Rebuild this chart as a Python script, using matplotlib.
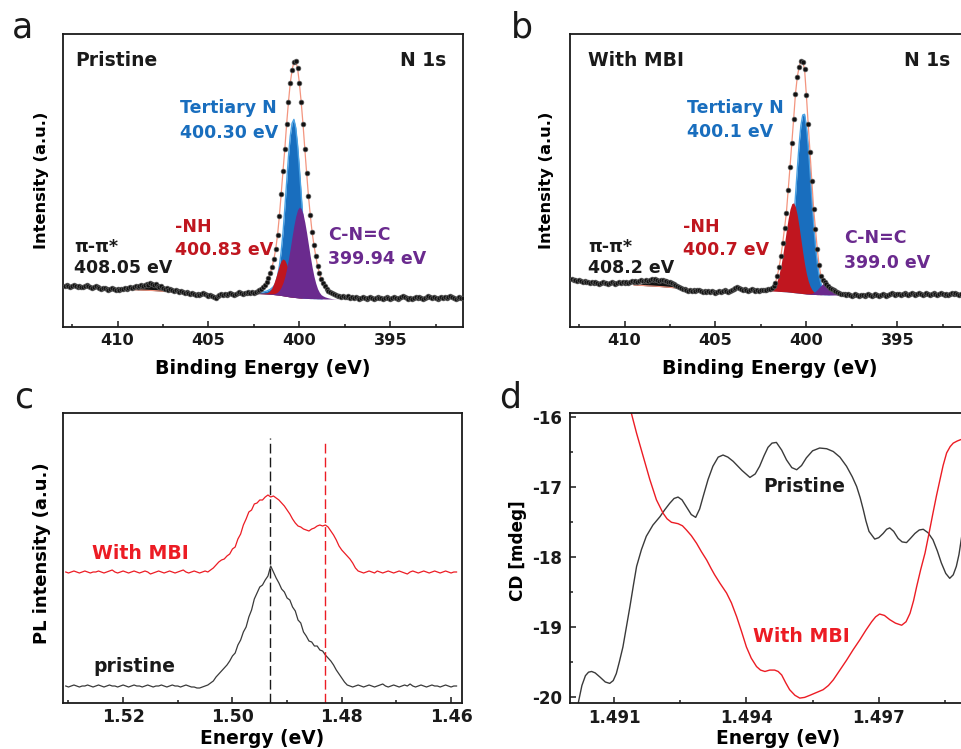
"""
N 1s XPS, PL and CD comparison: pristine film vs. film with MBI
===============================================================
Writes out.png (961 x 749 px).
"""

import numpy as np
import matplotlib

matplotlib.use("Agg")
import matplotlib.pyplot as plt
from matplotlib.ticker import MultipleLocator, FormatStrFormatter

plt.rcParams["font.family"] = "DejaVu Sans"
plt.rcParams["font.weight"] = "bold"
plt.rcParams["axes.unicode_minus"] = False

# ── XPS N 1s (panels a, b) ────────────────────────────────────────────────────
# measured points every 0.1 eV from 412.9 down to 391.0 eV (rows of ten)
xps_energy = np.round(np.arange(412.9, 390.95, -0.1), 1)

xps_pristine = [
    41, 42, 41, 40, 41, 42, 41, 40, 41, 40,
    40, 41, 42, 41, 40, 39, 40, 41, 40, 39,
    38, 39, 39, 38, 37, 38, 39, 38, 37, 38,
    37, 38, 38, 39, 38, 39, 40, 39, 40, 41,
    40, 41, 42, 41, 42, 43, 42, 44, 43, 42,
    43, 41, 40, 41, 39, 38, 39, 37, 38, 37,
    36, 37, 36, 35, 36, 35, 34, 35, 34, 33,
    34, 33, 32, 33, 32, 33, 34, 33, 32, 31,
    32, 31, 30, 29, 31, 32, 33, 32, 33, 32,
    33, 34, 33, 32, 33, 34, 35, 34, 33, 34,
    34, 35, 34, 35, 34, 35, 36, 37, 38, 40,
    42, 45, 49, 54, 60, 68, 78, 92, 111, 133,
    156, 178, 203, 225, 244, 257, 265, 266, 259, 244,
    225, 203, 178, 154, 131, 112, 95, 82, 71, 61,
    54, 48, 44, 41, 38, 36, 35, 34, 33, 32,
    31, 31, 30, 31, 30, 30, 31, 29, 30, 29,
    30, 29, 28, 29, 30, 29, 28, 29, 30, 29,
    28, 29, 30, 29, 29, 28, 29, 30, 29, 28,
    29, 30, 29, 28, 29, 30, 31, 30, 29, 28,
    29, 28, 29, 30, 29, 30, 29, 28, 29, 30,
    31, 30, 29, 30, 29, 28, 29, 30, 29, 30,
    29, 30, 31, 30, 29, 28, 29, 30, 29, 29,
]

xps_mbi = [
    48, 47, 47, 46, 47, 46, 45, 46, 45, 45,
    44, 45, 44, 45, 44, 43, 44, 45, 44, 44,
    43, 44, 45, 44, 43, 44, 45, 44, 45, 44,
    45, 44, 45, 46, 45, 46, 45, 46, 47, 46,
    46, 47, 46, 47, 48, 47, 48, 47, 46, 47,
    47, 46, 46, 45, 45, 44, 43, 42, 41, 40,
    39, 38, 38, 37, 36, 37, 36, 37, 36, 37,
    37, 36, 35, 36, 35, 36, 35, 36, 35, 34,
    35, 36, 35, 36, 37, 36, 35, 36, 37, 38,
    39, 40, 39, 38, 37, 38, 37, 36, 37, 38,
    37, 36, 37, 36, 37, 37, 37, 37, 38, 38,
    39, 41, 44, 51, 60, 71, 84, 99, 114, 137,
    160, 184, 208, 233, 250, 260, 266, 265, 258, 232,
    203, 175, 146, 118, 98, 78, 62, 51, 47, 45,
    43, 41, 39, 38, 37, 36, 35, 34, 33, 33,
    33, 32, 33, 32, 31, 32, 33, 32, 31, 32,
    32, 31, 32, 33, 32, 31, 32, 33, 32, 31,
    32, 33, 32, 31, 32, 33, 34, 33, 32, 33,
    33, 32, 33, 34, 33, 32, 33, 34, 33, 32,
    33, 34, 33, 32, 33, 34, 33, 32, 33, 34,
    33, 32, 33, 34, 33, 32, 33, 32, 33, 34,
    33, 34, 33, 32, 33, 33, 32, 33, 34, 33,
]

# fitted envelope, background and components, 402.4 -> 397.6 eV every 0.1 eV
comp_energy = np.round(np.arange(402.4, 397.55, -0.1), 1)

fit_pristine = [
    35, 36, 37, 38, 40, 42, 45, 49, 54, 60,
    68, 78, 92, 111, 133, 156, 178, 203, 225, 244,
    257, 265, 266, 259, 244, 225, 203, 178, 154, 131,
    112, 95, 82, 71, 61, 54, 48, 44, 41, 38,
    36, 35, 34, 33, 32, 31, 31, 30, 30,
]
bg_pristine = [
    33.5, 33.4, 33.3, 33.2, 33.1, 33.0, 32.9, 32.8, 32.7, 32.6,
    32.4, 32.2, 32.0, 31.8, 31.5, 31.2, 30.9, 30.6, 30.3, 30.0,
    29.8, 29.6, 29.4, 29.2, 29.0, 28.9, 28.8, 28.7, 28.6, 28.5,
    28.4, 28.4, 28.3, 28.3, 28.2, 28.2, 28.1, 28.1, 28.0, 28.0,
    28.0, 28.0, 27.9, 27.9, 27.9, 27.8, 27.8, 27.8, 27.8,
]
tertiary_pristine = [
    1, 1, 1, 1.5, 2, 2.5, 3, 4, 5, 6.5,
    8.5, 12, 19, 29, 44, 63, 88, 114, 140, 161,
    174, 178, 170, 153, 130, 104, 78, 55, 36, 23,
    14, 8, 4.5, 2.5, 1.5, 1, 0.5, 0, 0, 0,
    0, 0, 0, 0, 0, 0, 0, 0, 0,
]
nh_pristine = [
    0.3, 0.4, 0.5, 0.6, 0.8, 1.0, 1.3, 2.2, 3.9, 7.0,
    11.5, 17.2, 23.7, 30.0, 34.8, 36.9, 36.0, 32.2, 26.3, 19.8,
    13.6, 8.6, 5.0, 2.6, 1.3, 0.6, 0.2, 0, 0, 0,
    0, 0, 0, 0, 0, 0, 0, 0, 0, 0,
    0, 0, 0, 0, 0, 0, 0, 0, 0,
]
cnc_pristine = [
    0, 0, 0, 0, 0, 0.1, 0.2, 0.3, 0.5, 0.7,
    0.9, 1.7, 3.0, 5.1, 8.4, 13.1, 19.5, 27.7, 37.7, 49.0,
    60.8, 72.0, 81.4, 88.1, 90.9, 89.7, 84.5, 76.0, 65.4, 53.7,
    42.1, 31.6, 22.6, 15.5, 10.1, 6.5, 4.2, 3.0, 2.2, 1.6,
    1.1, 0.7, 0.4, 0.2, 0.1, 0, 0, 0, 0,
]

fit_mbi = [
    37, 37, 37, 37.5, 38, 39, 41, 44, 51, 60,
    71, 84, 99, 114, 137, 160, 184, 208, 233, 250,
    260, 266, 265, 258, 232, 203, 175, 146, 118, 98,
    78, 62, 51, 47, 45, 43, 41, 39, 38, 36.5,
    35.5, 34.5, 34, 33, 33, 32.5, 32.5, 32, 32,
]
bg_mbi = [
    36.5, 36.4, 36.3, 36.2, 36.1, 36.0, 35.9, 35.8, 35.7, 35.6,
    35.5, 35.4, 35.3, 35.2, 35.0, 34.8, 34.6, 34.4, 34.2, 34.0,
    33.8, 33.6, 33.4, 33.2, 33.0, 32.9, 32.8, 32.7, 32.6, 32.5,
    32.4, 32.4, 32.3, 32.3, 32.2, 32.2, 32.1, 32.1, 32.0, 32.0,
    32.0, 31.9, 31.9, 31.9, 31.8, 31.8, 31.8, 31.8, 31.8,
]
tertiary_mbi = [
    0, 0, 0, 0, 0, 0, 0.1, 0.2, 0.4, 0.7,
    1.5, 3.1, 6.1, 11.3, 19.6, 32.0, 49.1, 71.1, 96.6, 123.5,
    148.6, 168.0, 178.6, 179.5, 168.0, 148.6, 123.5, 96.6, 71.1, 49.1,
    32.0, 19.6, 11.3, 6.1, 3.1, 1.5, 0.7, 0.3, 0.1, 0,
    0, 0, 0, 0, 0, 0, 0, 0, 0,
]
nh_mbi = [
    0, 0.1, 0.2, 0.5, 1.0, 2.0, 3.8, 6.6, 11.0, 17.4,
    25.9, 36.6, 48.8, 61.6, 73.5, 83.1, 88.8, 89.8, 85.9, 77.7,
    66.5, 53.9, 41.3, 29.9, 20.5, 13.3, 8.2, 4.8, 2.6, 1.4,
    0.7, 0.3, 0.1, 0, 0, 0, 0, 0, 0, 0,
    0, 0, 0, 0, 0, 0, 0, 0, 0,
]
cnc_mbi = [
    0, 0, 0, 0, 0, 0, 0, 0, 0, 0,
    0, 0, 0, 0, 0, 0, 0, 0, 0, 0,
    0, 0, 0, 0, 0.2, 0.3, 0.5, 1.0, 1.9, 3.2,
    5.0, 7.1, 9.2, 10.9, 11.9, 11.9, 10.9, 9.2, 7.1, 5.0,
    3.2, 1.9, 1.0, 0.5, 0.2, 0.1, 0, 0, 0,
]

# pi-pi* shake-up satellite
pipi_energy = [409.5, 409.25, 409.0, 408.75, 408.5, 408.25, 408.0,
               407.75, 407.5, 407.25, 407.0, 406.75, 406.5]
pipi_bg_pristine = [37.6, 37.4, 37.2, 37.0, 36.8, 36.6, 36.4,
                    36.1, 35.8, 35.5, 35.2, 34.9, 34.6]
pipi_pristine = [0.3, 1.0, 2.2, 3.8, 5.4, 6.6, 7.0, 5.8, 4.0, 2.5, 1.4, 0.7, 0.2]
pipi_bg_mbi = [42.0, 41.8, 41.5, 41.2, 41.0, 40.7, 40.4,
               40.0, 39.6, 39.2, 38.8, 38.4, 38.0]
pipi_mbi = [0.3, 1.0, 2.0, 3.5, 5.0, 6.2, 6.5, 6.0, 5.0, 3.5, 2.0, 1.0, 0.3]

# ── PL (panel c), 1.5305 -> 1.4590 eV every 0.5 meV, offset traces ───────────
pl_energy = np.round(1.5305 - 0.0005 * np.arange(144), 4)

pl_pristine = [
    17, 16, 17, 18, 17, 16, 17, 17, 18, 17, 16, 17,
    18, 17, 16, 17, 18, 17, 17, 16, 17, 18, 17, 16,
    17, 18, 17, 17, 16, 17, 18, 17, 16, 17, 17, 18,
    17, 16, 17, 18, 17, 17, 16, 17, 18, 17, 16, 16,
    15, 15, 16, 17, 18, 20, 22, 26, 29, 32, 35, 38,
    42, 47, 50, 58, 63, 71, 76, 86, 93, 104, 110, 116,
    118, 123, 127, 137, 131, 125, 120, 114, 111, 105, 103, 96,
    92, 83, 80, 71, 67, 62, 61, 57, 57, 53, 52, 48,
    45, 42, 38, 33, 29, 25, 21, 18, 17, 16, 17, 18,
    17, 16, 17, 18, 17, 16, 17, 18, 19, 17, 16, 17,
    18, 17, 16, 17, 18, 17, 19, 17, 16, 17, 18, 17,
    16, 17, 18, 17, 17, 16, 17, 18, 17, 16, 17, 17,
]
pl_mbi = [
    131, 130, 131, 132, 131, 130, 131, 132, 131, 130, 131, 131,
    132, 131, 130, 131, 132, 133, 131, 130, 131, 132, 131, 130,
    131, 132, 131, 130, 131, 132, 131, 129, 130, 131, 132, 131,
    130, 131, 132, 131, 130, 131, 132, 133, 131, 130, 131, 132,
    131, 130, 131, 132, 131, 133, 135, 138, 141, 143, 144, 147,
    149, 154, 156, 164, 169, 178, 184, 191, 193, 199, 200, 203,
    203, 206, 208, 206, 207, 205, 203, 200, 197, 193, 189, 184,
    180, 177, 176, 174, 173, 172, 174, 175, 177, 178, 177, 178,
    176, 172, 168, 163, 157, 153, 150, 147, 144, 140, 135, 132,
    131, 130, 131, 132, 131, 130, 132, 131, 130, 131, 132, 131,
    130, 131, 132, 131, 130, 129, 131, 132, 131, 130, 131, 132,
    131, 130, 131, 132, 131, 130, 131, 132, 131, 130, 131, 131,
]
pl_marker_pristine = 1.4931   # black dashed line
pl_marker_mbi = 1.4830        # red dashed line
pl_marker_top = [265, 263]

# ── CD (panel d) ──────────────────────────────────────────────────────────────
cd_energy_pristine = [
    1.49012, 1.49020, 1.49027, 1.49035, 1.49042, 1.49049, 1.49057, 1.49068,
    1.49080, 1.49090, 1.49098, 1.49105, 1.49112, 1.49120, 1.49128, 1.49136,
    1.49144, 1.49151, 1.49162, 1.49173, 1.49188, 1.49204, 1.49215, 1.49226,
    1.49236, 1.49245, 1.49254, 1.49264, 1.49275, 1.49285, 1.49294, 1.49302,
    1.49313, 1.49324, 1.49336, 1.49347, 1.49358, 1.49370, 1.49390, 1.49408,
    1.49420, 1.49430, 1.49440, 1.49449, 1.49458, 1.49468, 1.49480, 1.49491,
    1.49503, 1.49514, 1.49525, 1.49536, 1.49550, 1.49566, 1.49582, 1.49597,
    1.49612, 1.49627, 1.49640, 1.49650, 1.49658, 1.49665, 1.49671, 1.49678,
    1.49691, 1.49700, 1.49710, 1.49718, 1.49725, 1.49734, 1.49744, 1.49753,
    1.49763, 1.49772, 1.49782, 1.49792, 1.49801, 1.49812, 1.49823, 1.49833,
    1.49842, 1.49852, 1.49861, 1.49869, 1.49876, 1.49882, 1.49888, 1.49896,
    1.49910,
]
cd_pristine = [
    -20.30, -20.05, -19.84, -19.70, -19.65, -19.64, -19.66, -19.72,
    -19.79, -19.81, -19.77, -19.67, -19.50, -19.29, -19.00, -18.71,
    -18.40, -18.14, -17.90, -17.71, -17.55, -17.43, -17.33, -17.24,
    -17.17, -17.15, -17.19, -17.29, -17.40, -17.44, -17.32, -17.14,
    -16.90, -16.71, -16.58, -16.55, -16.58, -16.64, -16.77, -16.87,
    -16.82, -16.71, -16.56, -16.44, -16.38, -16.37, -16.48, -16.62,
    -16.73, -16.76, -16.70, -16.59, -16.49, -16.45, -16.46, -16.50,
    -16.58, -16.71, -16.86, -17.00, -17.16, -17.33, -17.49, -17.64,
    -17.75, -17.73, -17.67, -17.61, -17.59, -17.64, -17.74, -17.79,
    -17.80, -17.74, -17.67, -17.62, -17.61, -17.66, -17.76, -17.92,
    -18.09, -18.24, -18.31, -18.26, -18.14, -17.97, -17.72, -17.40,
    -16.95,
]
cd_energy_mbi = [
    1.49125, 1.49139, 1.49151, 1.49166, 1.49181, 1.49196, 1.49211, 1.49220,
    1.49230, 1.49245, 1.49255, 1.49264, 1.49275, 1.49287, 1.49298, 1.49310,
    1.49320, 1.49328, 1.49340, 1.49355, 1.49366, 1.49378, 1.49389, 1.49400,
    1.49411, 1.49423, 1.49432, 1.49442, 1.49453, 1.49464, 1.49472, 1.49480,
    1.49489, 1.49498, 1.49510, 1.49521, 1.49532, 1.49544, 1.49559, 1.49574,
    1.49586, 1.49597, 1.49612, 1.49627, 1.49642, 1.49657, 1.49671, 1.49684,
    1.49693, 1.49702, 1.49713, 1.49725, 1.49738, 1.49752, 1.49762, 1.49771,
    1.49779, 1.49786, 1.49795, 1.49805, 1.49814, 1.49823, 1.49831, 1.49839,
    1.49846, 1.49854, 1.49862, 1.49869, 1.49878, 1.49886, 1.49900, 1.49910,
]
cd_mbi = [
    -15.70, -15.95, -16.24, -16.57, -16.90, -17.19, -17.38, -17.46,
    -17.51, -17.53, -17.56, -17.62, -17.70, -17.81, -17.93, -18.05,
    -18.17, -18.26, -18.38, -18.52, -18.66, -18.86, -19.07, -19.29,
    -19.45, -19.57, -19.62, -19.64, -19.62, -19.62, -19.64, -19.69,
    -19.80, -19.90, -19.98, -20.02, -20.01, -19.98, -19.94, -19.90,
    -19.84, -19.76, -19.62, -19.48, -19.33, -19.19, -19.05, -18.93,
    -18.86, -18.82, -18.84, -18.90, -18.95, -18.98, -18.93, -18.81,
    -18.63, -18.43, -18.19, -17.95, -17.67, -17.38, -17.13, -16.90,
    -16.70, -16.52, -16.43, -16.38, -16.35, -16.33, -16.32, -16.32,
]

# ── Style ─────────────────────────────────────────────────────────────────────
INK = "#1a1a1a"
BLUE = "#196ebe"
BLUE_EDGE = "#4aa2e4"
RED = "#c0161f"
PURPLE = "#6a2a8e"
FIT = "#f3957f"
LINE_RED = "#ec1c24"
LINE_GREY = "#3a3a3a"

W, H = 961, 749


def px_rect(left, top, width, height):
    """Axes rectangle from pixel coordinates (origin top-left)."""
    return [left / W, 1 - (top + height) / H, width / W, height / H]


def style_axes(ax, tick_size=12, pad=4):
    for spine in ax.spines.values():
        spine.set_linewidth(1.3)
        spine.set_color(INK)
    ax.tick_params(which="both", direction="in", top=False, right=False,
                   width=1.1, colors=INK, labelsize=tick_size, pad=pad)
    ax.tick_params(which="major", length=4.5)
    ax.tick_params(which="minor", length=2.5)


def draw_xps(ax, dots, fit, bg, tertiary, nh, cnc, pipi_bg, pipi):
    bg = np.asarray(bg)
    top_t = bg + np.asarray(tertiary)
    ax.fill_between(comp_energy, bg, top_t, color=BLUE, lw=0, zorder=1)
    ax.plot(comp_energy, np.where(np.asarray(tertiary) > 0.5, top_t, np.nan),
            color=BLUE_EDGE, lw=1.0, zorder=1.5)
    ax.fill_between(comp_energy, bg, bg + np.asarray(nh), color=RED, lw=0, zorder=2)
    ax.fill_between(comp_energy, bg, bg + np.asarray(cnc), color=PURPLE, lw=0, zorder=2)
    pb = np.asarray(pipi_bg)
    ax.fill_between(pipi_energy, pb, pb + np.asarray(pipi), color="#111111", lw=0, zorder=2)
    ax.plot(pipi_energy, pb, color=FIT, lw=0.8, zorder=2.5)
    ax.plot(comp_energy, fit, color=FIT, lw=0.9, zorder=3)
    ax.plot(xps_energy, dots, "o", ms=3.4, mfc="#111111", mec="#5a5a5a",
            mew=0.5, zorder=4)

    ax.set_xlim(413, 391)
    ax.set_ylim(0, 293)
    ax.set_yticks([])
    ax.xaxis.set_major_locator(MultipleLocator(5))
    ax.xaxis.set_minor_locator(MultipleLocator(2.5))
    ax.xaxis.set_major_formatter(FormatStrFormatter("%d"))
    style_axes(ax, tick_size=11.7, pad=4)


def peak_label(ax, x, y, lines, color, size=12.5):
    ax.text(x, y[0], lines[0], color=color, fontsize=size, va="center",
            ha="left", transform=ax.transAxes)
    ax.text(x, y[1], lines[1], color=color, fontsize=size, va="center",
            ha="left", transform=ax.transAxes)


fig = plt.figure(figsize=(W / 100, H / 100), dpi=100)

# ── a: pristine XPS ───────────────────────────────────────────────────────────
ax_a = fig.add_axes(px_rect(63, 34, 400, 293))
draw_xps(ax_a, xps_pristine, fit_pristine, bg_pristine, tertiary_pristine,
         nh_pristine, cnc_pristine, pipi_bg_pristine, pipi_pristine)
ax_a.text(0.03, 0.911, "Pristine", fontsize=13.5, color=INK, va="center",
          transform=ax_a.transAxes)
ax_a.text(0.9575, 0.911, "N 1s", fontsize=13.5, color=INK, va="center",
          ha="right", transform=ax_a.transAxes)
peak_label(ax_a, 0.2925, (0.747, 0.663), ("Tertiary N", "400.30 eV"), BLUE)
peak_label(ax_a, 0.28, (0.342, 0.263), ("-NH", "400.83 eV"), RED)
peak_label(ax_a, 0.6625, (0.314, 0.231), ("C-N=C", "399.94 eV"), PURPLE)
peak_label(ax_a, 0.0275, (0.274, 0.200), ("π-π*", "408.05 eV"), INK)
ax_a.text(-0.053, 0.5, "Intensity (a.u.)", rotation=90, fontsize=11.7,
          ha="center", va="center", transform=ax_a.transAxes)
ax_a.text(0.5, -0.14, "Binding Energy (eV)", fontsize=13.7, ha="center",
          va="center", transform=ax_a.transAxes)

# ── b: with MBI XPS (frame runs past the right edge) ──────────────────────────
ax_b = fig.add_axes(px_rect(570, 34, 400, 293))
draw_xps(ax_b, xps_mbi, fit_mbi, bg_mbi, tertiary_mbi, nh_mbi, cnc_mbi,
         pipi_bg_mbi, pipi_mbi)
ax_b.text(0.046, 0.911, "With MBI", fontsize=13.5, color=INK, va="center",
          transform=ax_b.transAxes)
ax_b.text(0.95, 0.911, "N 1s", fontsize=13.5, color=INK, va="center",
          ha="right", transform=ax_b.transAxes)
peak_label(ax_b, 0.292, (0.746, 0.667), ("Tertiary N", "400.1 eV"), BLUE)
peak_label(ax_b, 0.282, (0.342, 0.263), ("-NH", "400.7 eV"), RED)
peak_label(ax_b, 0.686, (0.303, 0.217), ("C-N=C", "399.0 eV"), PURPLE)
peak_label(ax_b, 0.046, (0.274, 0.200), ("π-π*", "408.2 eV"), INK)
ax_b.text(-0.058, 0.5, "Intensity (a.u.)", rotation=90, fontsize=11.7,
          ha="center", va="center", transform=ax_b.transAxes)
ax_b.text(0.5, -0.14, "Binding Energy (eV)", fontsize=13.7, ha="center",
          va="center", transform=ax_b.transAxes)

# ── c: PL ─────────────────────────────────────────────────────────────────────
ax_c = fig.add_axes(px_rect(63, 413, 399, 290))
ax_c.plot(pl_energy, pl_pristine, color=LINE_GREY, lw=0.9)
ax_c.plot(pl_energy, pl_mbi, color=LINE_RED, lw=0.9)
ax_c.vlines(pl_marker_pristine, 0, pl_marker_top[0], color=INK, lw=1.0,
            linestyles=(0, (7, 3)))
ax_c.vlines(pl_marker_mbi, 0, pl_marker_top[1], color=LINE_RED, lw=1.0,
            linestyles=(0, (7, 3)))
ax_c.set_xlim(1.531, 1.458)
ax_c.set_ylim(0, 290)
ax_c.set_yticks([])
ax_c.xaxis.set_major_locator(MultipleLocator(0.02))
ax_c.xaxis.set_minor_locator(MultipleLocator(0.01))
ax_c.xaxis.set_major_formatter(FormatStrFormatter("%.2f"))
style_axes(ax_c, tick_size=12.5, pad=3.5)
ax_c.text(0.072, 0.516, "With MBI", color=LINE_RED, fontsize=13.6,
          va="center", transform=ax_c.transAxes)
ax_c.text(0.076, 0.125, "pristine", color=INK, fontsize=13.5,
          va="center", transform=ax_c.transAxes)
ax_c.text(-0.053, 0.516, "PL intensity (a.u.)", rotation=90, fontsize=13,
          ha="center", va="center", transform=ax_c.transAxes)
ax_c.text(0.498, -0.122, "Energy (eV)", fontsize=13.4, ha="center",
          va="center", transform=ax_c.transAxes)

# ── d: CD (frame runs past the right edge) ────────────────────────────────────
ax_d = fig.add_axes(px_rect(570, 413, 400, 290))
ax_d.plot(cd_energy_pristine, cd_pristine, color=LINE_GREY, lw=1.0)
ax_d.plot(cd_energy_mbi, cd_mbi, color=LINE_RED, lw=1.0)
ax_d.set_xlim(1.4900, 1.49907)
ax_d.set_ylim(-20.09, -15.95)
ax_d.xaxis.set_major_locator(MultipleLocator(0.003))
ax_d.xaxis.set_minor_locator(MultipleLocator(0.0015))
ax_d.xaxis.set_major_formatter(FormatStrFormatter("%.3f"))
ax_d.yaxis.set_major_locator(MultipleLocator(1))
ax_d.yaxis.set_minor_locator(MultipleLocator(0.5))
ax_d.yaxis.set_major_formatter(FormatStrFormatter("%d"))
style_axes(ax_d, tick_size=12, pad=4)
ax_d.tick_params(axis="y", pad=6)
ax_d.text(0.483, 0.748, "Pristine", color=INK, fontsize=13.4, va="center",
          transform=ax_d.transAxes)
ax_d.text(0.458, 0.229, "With MBI", color=LINE_RED, fontsize=13.6,
          va="center", transform=ax_d.transAxes)
ax_d.text(-0.129, 0.525, "CD [mdeg]", rotation=90, fontsize=12.2,
          ha="center", va="center", transform=ax_d.transAxes)
ax_d.text(0.52, -0.122, "Energy (eV)", fontsize=13.4, ha="center",
          va="center", transform=ax_d.transAxes)

# ── Panel letters ─────────────────────────────────────────────────────────────
for letter, x, y in [("a", 12, 38), ("b", 511, 38), ("c", 14, 408), ("d", 499, 408)]:
    fig.text(x / W, 1 - y / H, letter, fontsize=25, fontweight="normal",
             color=INK, ha="left", va="baseline")

fig.savefig("out.png", dpi=100)
